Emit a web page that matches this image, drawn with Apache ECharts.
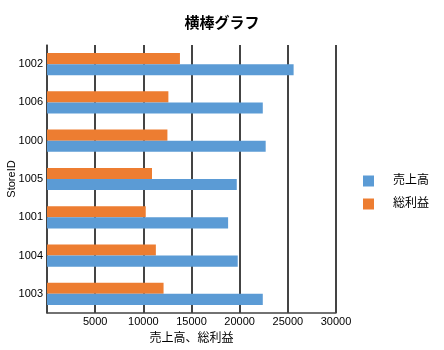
<!DOCTYPE html>
<html>
<head>
<meta charset="utf-8">
<script src="https://cdn.jsdelivr.net/npm/echarts@6/dist/echarts.min.js"></script>
<style>
  html, body { margin: 0; padding: 0; background: #fff; }
  #chart { width: 444px; height: 350px; }
</style>
</head>
<body>
<div id="chart"></div>
<script>
// Store IDs, listed bottom to top as the category axis draws them
const stores = ['1003', '1004', '1001', '1005', '1000', '1006', '1002'];
// 売上高 (sales) per store
const sales = [22400, 19800, 18800, 19700, 22700, 22400, 25600];
// 総利益 (gross profit) per store
const profit = [12100, 11300, 10250, 10900, 12500, 12600, 13800];
const xTicks = [0, 5000, 10000, 15000, 20000, 25000, 30000];

const font = '"Liberation Sans", "Noto Sans CJK JP", sans-serif';
const chart = echarts.init(document.getElementById('chart'));
chart.setOption({
  animation: false,
  textStyle: { fontFamily: font },
  title: {
    text: '横棒グラフ',
    left: 'center',
    top: 10,
    textStyle: { fontSize: 15, fontWeight: 'bold', color: '#000', fontFamily: '"Noto Sans CJK JP", sans-serif' }
  },
  legend: {
    orient: 'vertical',
    left: 363,
    top: 175,
    padding: 0,
    itemWidth: 11,
    itemHeight: 11,
    itemGap: 11,
    icon: 'rect',
    textStyle: { fontSize: 12, color: '#000', padding: [0, 0, 0, 14] },
    data: ['売上高', '総利益']
  },
  grid: {
    left: 47, right: 108, top: 45, bottom: 37,
    containLabel: false,
    outerBoundsMode: 'none'
  },
  xAxis: {
    type: 'value',
    min: xTicks[0],
    max: xTicks[xTicks.length - 1],
    interval: xTicks[1] - xTicks[0],
    name: '売上高、総利益',
    nameLocation: 'middle',
    nameGap: 20,
    nameMoveOverlap: false,
    nameTextStyle: { fontSize: 12, color: '#000' },
    axisLine: { show: true, lineStyle: { color: '#444', width: 1.5 } },
    axisTick: { show: false },
    axisLabel: {
      fontSize: 11, color: '#000', margin: 3,
      formatter: v => (v === 0 ? '' : String(v))
    },
    splitLine: { show: true, lineStyle: { color: '#444', width: 2 } }
  },
  yAxis: {
    type: 'category',
    data: stores,
    name: 'StoreID',
    nameLocation: 'middle',
    nameGap: 30,
    nameMoveOverlap: false,
    nameTextStyle: { fontSize: 11, color: '#000' },
    axisLine: { show: true, lineStyle: { color: '#444', width: 1.5 } },
    axisTick: { show: false },
    axisLabel: { fontSize: 11, color: '#000', margin: 4 },
    splitLine: { show: false }
  },
  series: [
    // Profit is listed first so it sits above sales within each store's band
    {
      name: '総利益',
      type: 'bar',
      data: profit,
      itemStyle: { color: '#ED7D31' },
      barCategoryGap: '42%',
      barGap: '0%'
    },
    {
      name: '売上高',
      type: 'bar',
      data: sales,
      itemStyle: { color: '#5B9BD5' },
      barGap: '0%'
    }
  ]
});
</script>
</body>
</html>
